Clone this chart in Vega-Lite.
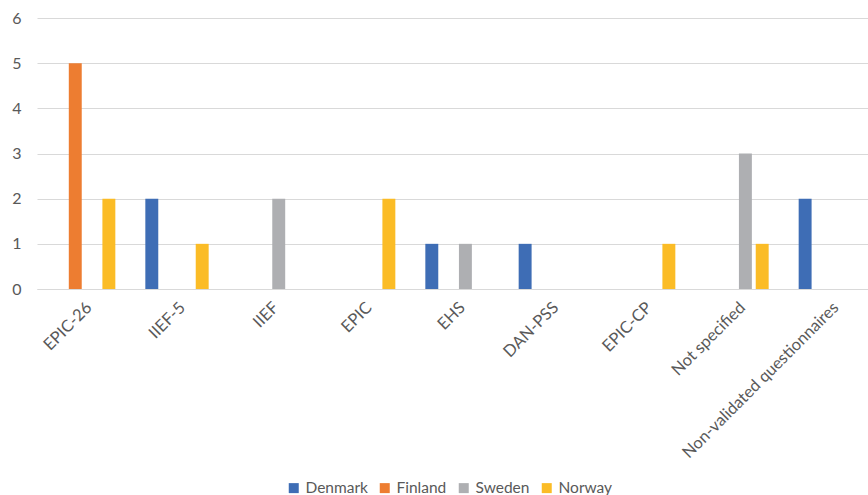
{
  "$schema": "https://vega.github.io/schema/vega-lite/v6.json",
  "autosize": {"type": "none"},
  "padding": {"left": 37, "top": 18, "right": 0, "bottom": 206},
  "width": 840,
  "height": 271,
  "background": "white",
  "config": {
    "font": "Lato",
    "view": {"stroke": null}
  },
  "data": {
    "values": [
      {"instrument": "EPIC-26", "country": "Finland", "count": 5},
      {"instrument": "EPIC-26", "country": "Norway", "count": 2},
      {"instrument": "IIEF-5", "country": "Denmark", "count": 2},
      {"instrument": "IIEF-5", "country": "Norway", "count": 1},
      {"instrument": "IIEF", "country": "Sweden", "count": 2},
      {"instrument": "EPIC", "country": "Norway", "count": 2},
      {"instrument": "EHS", "country": "Denmark", "count": 1},
      {"instrument": "EHS", "country": "Sweden", "count": 1},
      {"instrument": "DAN-PSS", "country": "Denmark", "count": 1},
      {"instrument": "EPIC-CP", "country": "Norway", "count": 1},
      {"instrument": "Not specified", "country": "Sweden", "count": 3},
      {"instrument": "Not specified", "country": "Norway", "count": 1},
      {"instrument": "Non-validated questionnaires", "country": "Denmark", "count": 2}
    ]
  },
  "mark": {"type": "bar"},
  "encoding": {
    "x": {
      "field": "instrument",
      "type": "nominal",
      "sort": ["EPIC-26", "IIEF-5", "IIEF", "EPIC", "EHS", "DAN-PSS", "EPIC-CP", "Not specified", "Non-validated questionnaires"],
      "scale": {"paddingInner": 0.28, "paddingOuter": 0.14},
      "axis": {
        "title": null,
        "labelAngle": -45,
        "labelFontSize": 16.5,
        "labelColor": "#595959",
        "labelPadding": 10,
        "ticks": false,
        "domainColor": "#D9D9D9",
        "grid": false,
        "labelLimit": 300
      }
    },
    "xOffset": {
      "field": "country",
      "type": "nominal",
      "sort": ["Denmark", "Finland", "Sweden", "Norway"],
      "scale": {"domain": ["Denmark", "Finland", "Sweden", "Norway"], "paddingInner": 0.23, "paddingOuter": 0.115}
    },
    "y": {
      "field": "count",
      "type": "quantitative",
      "scale": {"domain": [0, 6], "nice": false},
      "axis": {
        "title": null,
        "values": [0, 1, 2, 3, 4, 5, 6],
        "labelFontSize": 16,
        "labelColor": "#595959",
        "labelPadding": 16,
        "ticks": false,
        "domain": false,
        "gridColor": "#D9D9D9",
        "gridWidth": 1
      }
    },
    "color": {
      "field": "country",
      "type": "nominal",
      "scale": {
        "domain": ["Denmark", "Finland", "Sweden", "Norway"],
        "range": ["#3E6DB5", "#ED7D31", "#AEAFB2", "#FBBC26"]
      },
      "legend": {
        "title": null,
        "orient": "none",
        "legendX": 249,
        "legendY": 462,
        "direction": "horizontal",
        "symbolType": "square",
        "symbolSize": 100,
        "symbolStrokeWidth": 0,
        "labelFontSize": 15.5,
        "labelColor": "#595959",
        "labelOffset": 4,
        "columnPadding": 9
      }
    }
  }
}
